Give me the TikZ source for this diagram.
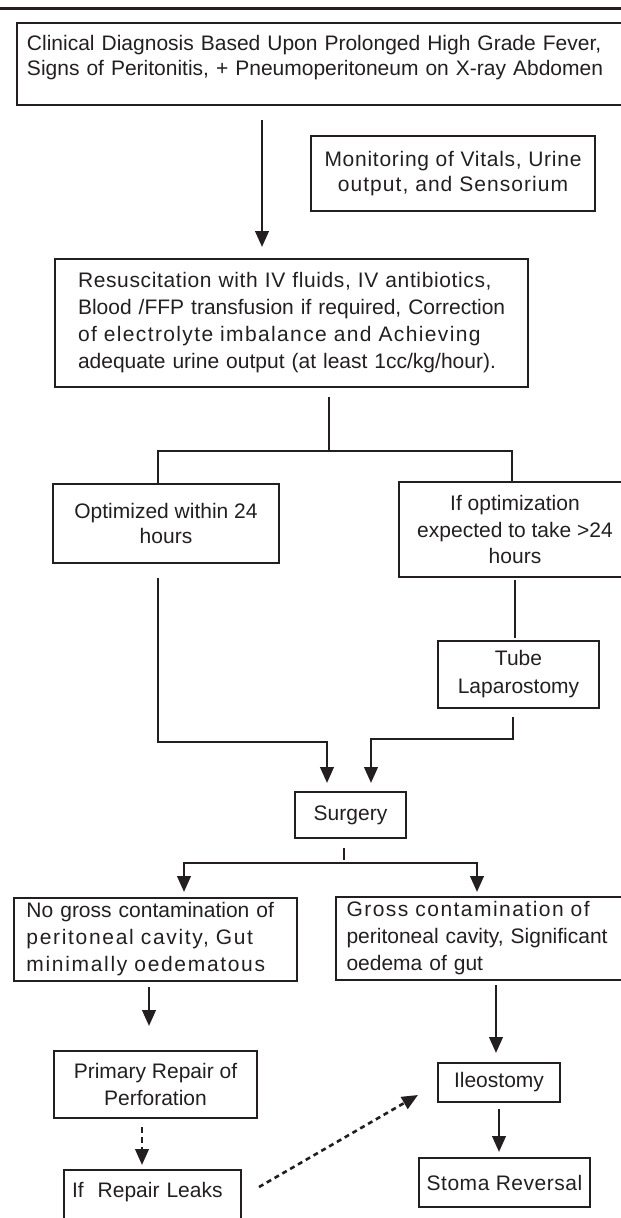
\documentclass[tikz,border=0pt]{standalone}
\usepackage{fontspec}
\setmainfont{Liberation Sans}
\usetikzlibrary{arrows.meta}
\definecolor{ink}{HTML}{231F20}
\newcommand{\jline}[2][0]{\makebox[\linewidth][s]{\addfontfeature{LetterSpace=#1}#2}}
\newcommand{\lsp}[2]{{\addfontfeature{LetterSpace=#1}#2}}

\begin{document}
\begin{tikzpicture}[x=1pt,y=-1pt,
    box/.style={draw=ink,line width=2.6pt,inner sep=0pt,outer sep=0pt,text=ink,
      font=\fontsize{21pt}{26.5pt}\selectfont,align=center},
    link/.style={draw=ink,line width=2.6pt},
    arr/.style={link,-{Triangle[length=16pt,width=13.5pt]}},
    dsh/.style={arr,dash pattern=on 5pt off 4pt}]
    \useasboundingbox (0,0) rectangle (621,1218);
    \draw[link,line width=3pt] (0,8) -- (621,8);
    % boxes
    \node[box,minimum width=606pt,minimum height=82pt,text width=586pt,align=left,
      font=\fontsize{21pt}{25pt}\selectfont] (diag) at (320,64)
      {Clinical Diagnosis Based Upon Prolonged High Grade Fever,\\Signs of Peritonitis, + Pneumoperitoneum on X-ray Abdomen\par\vspace{13pt}\kern0pt};
    \node[box,minimum width=284pt,minimum height=75pt,font=\fontsize{21pt}{25pt}\selectfont] (monitor) at (453,173.5)
      {\lsp{3.5}{Monitoring of Vitals, Urine}\\\lsp{5}{output, and Sensorium}};
    \node[box,minimum width=473pt,minimum height=128pt,text width=427pt,align=left,
      font=\fontsize{21pt}{27pt}\selectfont] (resus) at (291.5,323)
      {\jline[3]{Resuscitation with IV fluids, IV antibiotics,}\\\jline{Blood /FFP transfusion if required, Correction}\\\jline[6.5]{of electrolyte imbalance and Achieving}\\\jline{adequate urine output (at least 1cc/kg/hour).}};
    \node[box,minimum width=226pt,minimum height=79pt,font=\fontsize{21pt}{25pt}\selectfont] (opt24) at (166,523.5)
      {Optimized within 24\\hours};
    \node[box,minimum width=232pt,minimum height=95pt] (optmore) at (515,529.5)
      {If optimization\\expected to take >24\\hours};
    \node[box,minimum width=161pt,minimum height=67pt,font=\fontsize{21pt}{28pt}\selectfont] (tube) at (518.5,674.5)
      {Tube\\Laparostomy};
    \node[box,minimum width=111pt,minimum height=46pt] (surgery) at (350.5,815) {Surgery};
    \node[box,minimum width=283pt,minimum height=83pt,text width=258pt,align=left,
      font=\fontsize{21pt}{27pt}\selectfont] (nogross) at (155.5,939.5)
      {\jline{No gross contamination of}\\\jline[8]{peritoneal cavity, Gut}\\\jline[8]{minimally oedematous}};
    \node[box,minimum width=287pt,minimum height=83pt,text width=266pt,align=left,
      font=\fontsize{21pt}{27pt}\selectfont] (gross) at (479.5,938.5)
      {\jline[7]{Gross contamination of}\\\jline{peritoneal cavity, Significant}\\oedema of gut};
    \node[box,minimum width=203pt,minimum height=67pt,font=\fontsize{21pt}{27pt}\selectfont] (primary) at (155.5,1084.5)
      {Primary Repair of\\Perforation};
    \node[box,minimum width=177pt,minimum height=52pt,text width=161pt,align=left] (leaks) at (152.5,1196)
      {If\ \ Repair Leaks\par\vspace{8pt}\kern0pt};
    \node[box,minimum width=122pt,minimum height=39pt] (ileo) at (499,1082.5) {Ileostomy};
    \node[box,minimum width=171pt,minimum height=49pt] (stoma) at (504.5,1182.5) {\lsp{2.5}{Stoma Reversal}};
    % connectors
    \draw[arr,shorten <=15pt,shorten >=12pt] ([xshift=-58pt]diag.south) -- ([xshift=-29.5pt]resus.north);
    \coordinate (split) at (329,451);
    \draw[link] ([xshift=37.5pt,yshift=-10pt]resus.south) -- (split);
    \draw[link] ([xshift=-8pt]opt24.north) |- (split) -| ([xshift=-3pt]optmore.north);
    \draw[arr] ([xshift=-8pt,yshift=-15pt]opt24.south) |- ([xshift=-23.5pt,yshift=50pt]surgery.north)
      -- ([xshift=-23.5pt,yshift=9pt]surgery.north);
    \draw[link] ([yshift=-3pt]optmore.south) -- ([xshift=-3.5pt,yshift=3pt]tube.north);
    \draw[arr] ([xshift=-5.5pt,yshift=-9pt]tube.south) |- ([xshift=20.5pt,yshift=53pt]surgery.north)
      -- ([xshift=20.5pt,yshift=9pt]surgery.north);
    \coordinate (fork) at (344,863);
    \draw[link] ([xshift=-6.5pt,yshift=-10pt]surgery.south) -- ([yshift=3pt]fork);
    \draw[arr] (fork) -| ([xshift=28.5pt,yshift=6pt]nogross.north);
    \draw[arr] (fork) -| ([xshift=-2.5pt,yshift=5pt]gross.north);
    \draw[arr] ([xshift=-6.5pt,yshift=-6pt]nogross.south) -- ([xshift=-6.5pt,yshift=25pt]primary.north);
    \draw[dsh,dash pattern=on 6pt off 4pt] ([xshift=-13.5pt,yshift=-9pt]primary.south) -- ([xshift=-10.5pt,yshift=5pt]leaks.north);
    \draw[arr] ([xshift=16.5pt,yshift=-5pt]gross.south) -- ([xshift=-3pt,yshift=10pt]ileo.north);
    \draw[arr] ([yshift=-7pt]ileo.south) -- ([xshift=-5.5pt,yshift=6pt]stoma.north);
    \draw[dsh] ([xshift=18pt,yshift=9pt]leaks.east) -- ([xshift=-20pt,yshift=-12.5pt]ileo.west);
\end{tikzpicture}
\end{document}
